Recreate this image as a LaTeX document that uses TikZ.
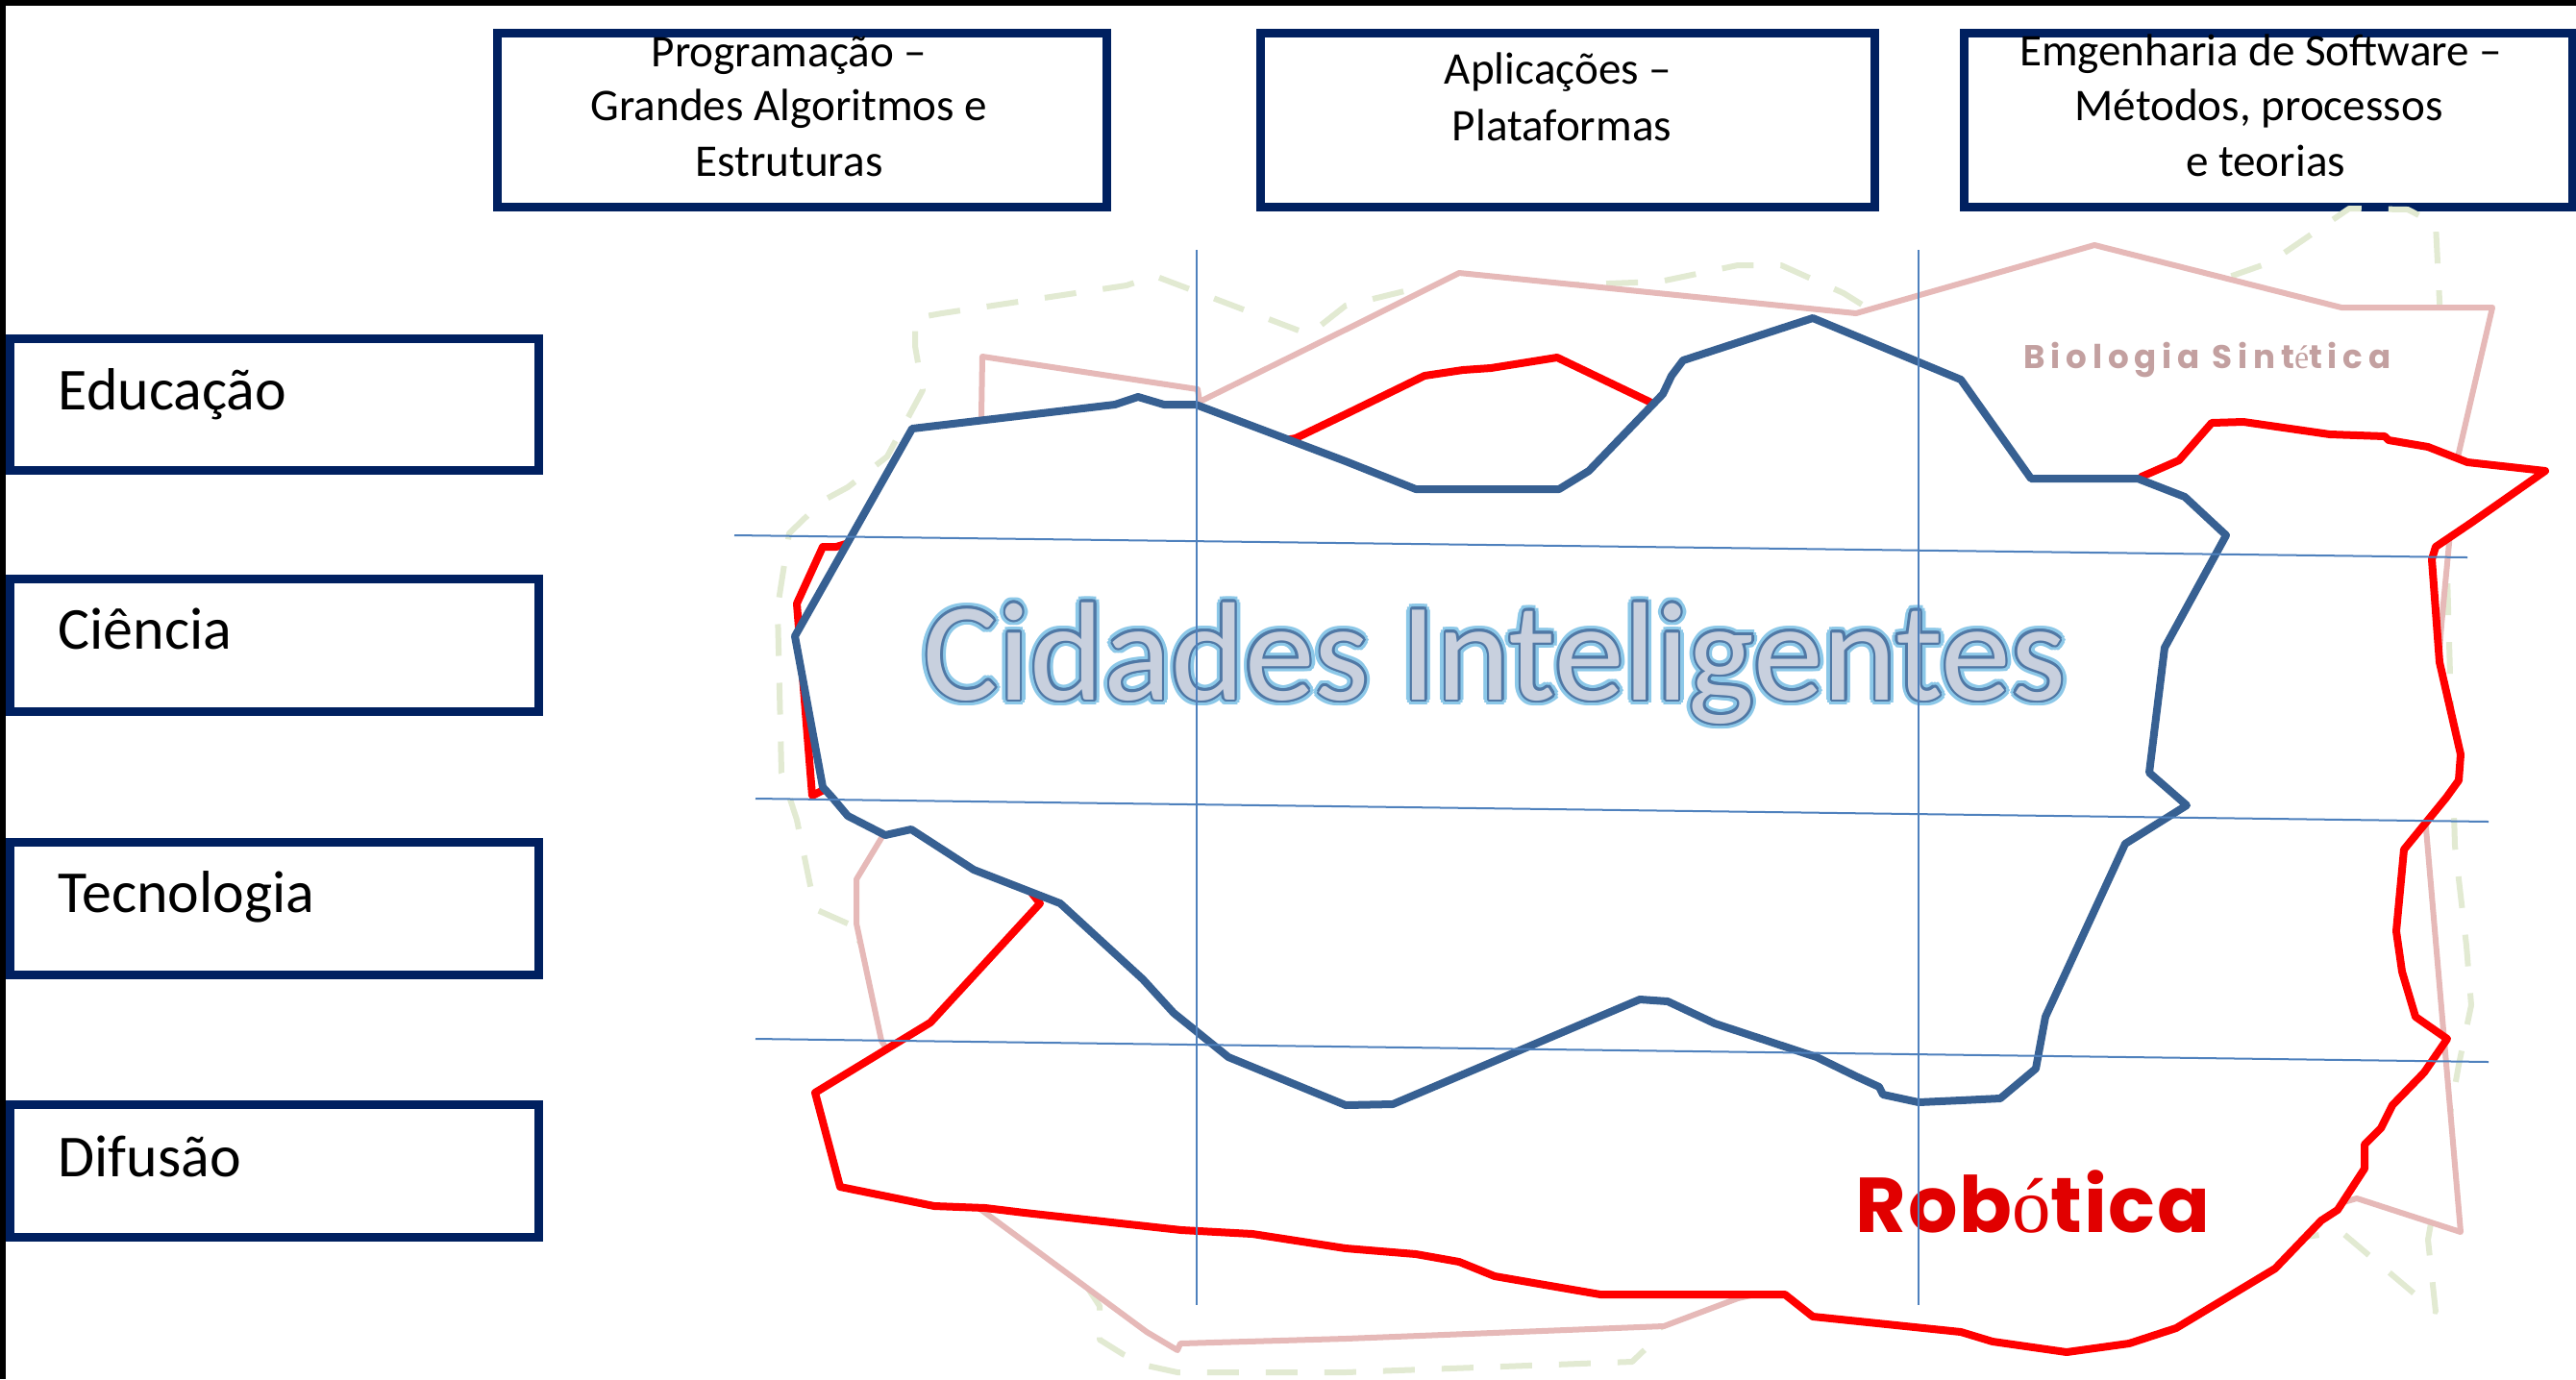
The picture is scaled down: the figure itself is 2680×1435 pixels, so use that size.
\documentclass[tikz,border=0pt]{standalone}
\usepackage{fontspec}
\setmainfont{Carlito}
\newfontfamily\geo{Poppins}
\newfontfamily\serifacc{Liberation Serif}
\definecolor{navy}{RGB}{0,32,96}
\definecolor{gridc}{RGB}{79,129,189}
\definecolor{polyblue}{RGB}{55,96,146}
\definecolor{polyred}{RGB}{255,0,0}
\definecolor{polypink}{RGB}{230,185,184}
\definecolor{polygreen}{RGB}{226,234,210}
\definecolor{glowc}{RGB}{140,200,232}
\definecolor{outc}{RGB}{80,120,165}
\definecolor{fillc}{RGB}{200,208,222}
\definecolor{biocol}{RGB}{195,160,160}
\definecolor{robcol}{RGB}{225,0,0}
\newcommand\ringtext[3]{\foreach \ang in {0,30,...,330}{\pgfmathsetlengthmacro\myDX{#1*cos(\ang)}\pgfmathsetlengthmacro\myDY{#1*sin(\ang)}\rlap{\kern\myDX\raisebox{\myDY}{\textcolor{#2}{#3}}}}}
\tikzset{
 topbox/.style={draw=navy, line width=0.09cm, minimum height=1.8cm, inner sep=0},
 sidebox/.style={draw=navy, line width=0.09cm, minimum width=5.49cm, minimum height=1.37cm, inner sep=0},
 toptext/.style={anchor=base, inner sep=0, font=\fontsize{13.4pt}{16pt}\selectfont},
 sidetext/.style={anchor=base west, inner sep=0, font=\fontsize{17.6pt}{21pt}\selectfont},
 gridline/.style={draw=gridc, line width=0.02cm},
 greenpoly/.style={draw=polygreen, line width=0.06cm, dash pattern=on 0.33cm off 0.28cm, line join=round},
 pinkpoly/.style={draw=polypink, fill=white, line width=0.06cm, line join=round},
 redpoly/.style={draw=polyred, fill=white, line width=0.08cm, line join=round},
 bluepoly/.style={draw=polyblue, fill=white, line width=0.08cm, line join=round},
}
\begin{document}
\begin{tikzpicture}[x=0.01cm, y=-0.01cm]
\useasboundingbox (0,0) rectangle (2680,1435);
\fill[white] (0,0) rectangle (2680,1435);
\fill[black] (0,0) rectangle (2680,6);
\fill[black] (0,0) rectangle (6,1435);

% top boxes
\node[topbox, minimum width=6.33cm] (prog) at (834.5,125) {};
\node[topbox, minimum width=6.38cm] (apl) at (1631,125) {};
\node[topbox, minimum width=6.32cm] (eng) at (2360,125) {};
\node[toptext] (prog1) at (821,69) {Programação –};
\node[toptext] (prog2) at (821,125) {Grandes Algoritmos e};
\node[toptext] (prog3) at (821,183) {Estruturas};
\node[toptext] (apl1) at (1621,87) {Aplicações –};
\node[toptext] (apl2) at (1625,146) {Plataformas};
\node[toptext] (eng1) at (2352,68) {Emgenharia de Software –};
\node[toptext] (eng2) at (2350,125) {Métodos, processos};
\node[toptext] (eng3) at (2357,183) {e teorias};

% side boxes
\node[sidebox] (edu) at (285.5,421) {};
\node[sidebox] (cie) at (285.5,671.5) {};
\node[sidebox] (tec) at (285.5,945.5) {};
\node[sidebox] (dif) at (285.5,1218.5) {};
\node[sidetext] (edut) at (60,426) {Educação};
\node[sidetext] (ciet) at (60,675) {Ciência};
\node[sidetext] (tect) at (60,949) {Tecnologia};
\node[sidetext] (dift) at (60,1224) {Difusão};

% green dashed region
\draw[greenpoly] (882,961) -- (848,946) -- (829,853) -- (813,804) -- (809,632) -- (821,555) -- (856,521) -- (882,507) -- (923,475) -- (960,406) -- (952,360) -- (952,331) -- (980,326) -- (1172,297) -- (1201,287) -- (1362,348) -- (1400,318) -- (1461,303) -- (1727,293) -- (1808,276) -- (1853,276) -- (1918,305) -- (1950,325) -- (2200,330) -- (2362,273) -- (2444,217) -- (2505,218) -- (2534,233) -- (2538,313) -- (2554,880) -- (2566,984) -- (2571,1046) -- (2558,1108) -- (2526,1290) -- (2534,1365) -- (2436,1282) -- (2300,1300) -- (1800,1330) -- (1727,1382) -- (1722,1394) -- (1698,1417) -- (1400,1428) -- (1225,1428) -- (1193,1421) -- (1168,1409) -- (1144,1394) -- (1144,1359) -- cycle;

% pink region (Biologia Sintetica)
\draw[pinkpoly] (1022,371) -- (1246,405) -- (1248,418) -- (1400,343) -- (1518,284) -- (1931,326) -- (2179,255) -- (2436,320) -- (2593,320) -- (2556,480) -- (2540,650) -- (2524,862) -- (2560,1282) -- (2452,1247) -- (2300,1290) -- (1900,1330) -- (1808,1351) -- (1731,1380) -- (1400,1393) -- (1228,1398) -- (1225,1405) -- (1193,1386) -- (1021,1259) -- (960,1150) -- (917,1083) -- (891,961) -- (891,915) -- (917,872) -- (1000,600) -- (1021,433) -- cycle;

% red region (Robotica)
\draw[redpoly] (870,569) -- (1100,500) -- (1348,456) -- (1400,431) -- (1482,391) -- (1522,385) -- (1551,383) -- (1620,372) -- (1716,418) -- (1900,560) -- (2200,540) -- (2228,496) -- (2267,479) -- (2301,440) -- (2334,439) -- (2424,452) -- (2481,454) -- (2485,458) -- (2526,465) -- (2567,481) -- (2648,490) -- (2571,544) -- (2534,569) -- (2530,582) -- (2538,689) -- (2560,785) -- (2558,812) -- (2545,830) -- (2501,884) -- (2493,969) -- (2499,1011) -- (2513,1058) -- (2546,1081) -- (2522,1116) -- (2489,1150) -- (2477,1174) -- (2460,1191) -- (2460,1216) -- (2432,1259) -- (2415,1270) -- (2367,1320) -- (2264,1382) -- (2215,1398) -- (2150,1407) -- (2122,1403) -- (2073,1396) -- (2040,1386) -- (1886,1370) -- (1857,1347) -- (1665,1347) -- (1555,1328) -- (1518,1313) -- (1473,1305) -- (1400,1299) -- (1303,1284) -- (1229,1280) -- (1066,1262) -- (1025,1257) -- (972,1255) -- (874,1235) -- (848,1137) -- (968,1064) -- (1082,940) -- (1050,900) -- (900,800) -- (845,828) -- (829,628) -- (856,569) -- cycle;

% blue region (Cidades Inteligentes)
\draw[bluepoly] (827,662) -- (949,446) -- (1160,421) -- (1184,413) -- (1211,421) -- (1244,421) -- (1400,480) -- (1473,509) -- (1622,509) -- (1653,490) -- (1730,410) -- (1739,391) -- (1751,375) -- (1886,331) -- (2040,395) -- (2113,498) -- (2224,498) -- (2273,517) -- (2316,557) -- (2252,674) -- (2236,804) -- (2275,838) -- (2211,878) -- (2128,1058) -- (2118,1112) -- (2081,1143) -- (2040,1145) -- (1996,1147) -- (1959,1139) -- (1955,1131) -- (1931,1120) -- (1890,1100) -- (1784,1065) -- (1735,1042) -- (1706,1040) -- (1449,1149) -- (1400,1150) -- (1278,1100) -- (1221,1054) -- (1189,1019) -- (1103,940) -- (1013,905) -- (948,863) -- (921,869) -- (882,849) -- (866,830) -- (856,819) -- cycle;

% labels
\node[anchor=base west, inner sep=0, font=\fontsize{41.5pt}{48pt}\selectfont] (cid) at (960,728) {\ringtext{1.7pt}{glowc}{Cidades Inteligentes}\ringtext{0.7pt}{outc}{Cidades Inteligentes}\textcolor{fillc}{Cidades Inteligentes}};
\node[anchor=base west, inner sep=0, text=biocol, font=\geo\bfseries\fontsize{9.7pt}{12pt}\selectfont\addfontfeature{LetterSpace=17}] (bio) at (2105,383) {Biologia Sint{\serifacc\mdseries é}tica};
\node[anchor=base west, inner sep=0, text=robcol, font=\geo\bfseries\fontsize{23pt}{28pt}\selectfont\addfontfeature{LetterSpace=2}] (rob) at (1930,1282) {Rob{\serifacc\mdseries ó}tica};

% grid lines
\coordinate (v1t) at (1245,260); \coordinate (v1b) at (1245,1358);
\coordinate (v2t) at (1996,260); \coordinate (v2b) at (1996,1358);
\coordinate (h1l) at (764,557); \coordinate (h1r) at (2567,580);
\coordinate (h2l) at (786,831); \coordinate (h2r) at (2589,855);
\coordinate (h3l) at (786,1081); \coordinate (h3r) at (2589,1105);
\draw[gridline] (v1t) -- (v1b);
\draw[gridline] (v2t) -- (v2b);
\draw[gridline] (h1l) -- (h1r);
\draw[gridline] (h2l) -- (h2r);
\draw[gridline] (h3l) -- (h3r);
\end{tikzpicture}
\end{document}
